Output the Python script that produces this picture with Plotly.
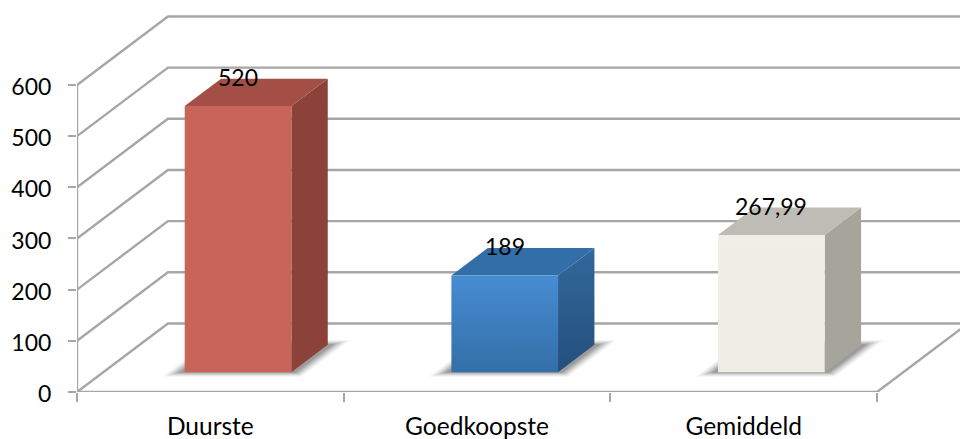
import plotly.graph_objects as go

categories = ["Duurste", "Goedkoopste", "Gemiddeld"]
values = [520, 189, 267.99]
value_labels = ["520", "189", "267,99"]
y_ticks = [0, 100, 200, 300, 400, 500, 600]

front_colors = [["#C9645A", "#C9645A"], ["#478CD3", "#336FA8"], ["#EFEEE7", "#EDECE5"]]
side_colors = [["#8A4239", "#8A4239"], ["#33689B", "#234F7C"], ["#A5A59C", "#A5A59C"]]
top_colors = ["#A34F46", "#326FA8", "#BFBCB6"]

LINE = "#A6A6A6"
FONT = "Lato"
FSIZE = 23
CAT_FSIZE = 24.5
DX = 0.341   # category units of full depth
DY = 133.9   # value units of full depth
D0, D1 = 0.29, 0.69
WIDTH = 0.40
BAR_SHIFT = 0.005


def px(u, d):
    return u + DX * d


def py(v, d):
    return v + DY * d


fig = go.Figure()


def line(xs, ys, width=2.4):
    fig.add_trace(go.Scatter(x=xs, y=ys, mode="lines", line=dict(color=LINE, width=width),
                             hoverinfo="skip", showlegend=False))


def poly(pts, color=None, grad=None):
    xs = [px(u, d) for u, v, d in pts] + [px(*pts[0][::2])]
    ys = [py(v, d) for u, v, d in pts] + [py(pts[0][1], pts[0][2])]
    kw = dict(fillcolor=color) if grad is None else dict(
        fillgradient=dict(type="vertical", colorscale=[[0, grad[1]], [1, grad[0]]]))
    fig.add_trace(go.Scatter(x=xs, y=ys, mode="lines", fill="toself", line=dict(width=0),
                             hoverinfo="skip", showlegend=False, **kw))


n = len(categories)
# walls and floor
for t in y_ticks:
    line([px(0, 0), px(0, 1), px(n, 1)], [py(t, 0), py(t, 1), py(t, 1)])
line([px(0, 0), px(n, 0), px(n, 1)], [py(0, 0), py(0, 0), py(0, 1)])
line([px(0, 0), px(0, 0)], [py(0, 0), py(600, 0)])

for i, val in enumerate(values):
    left = i + (1 - WIDTH) / 2 + BAR_SHIFT
    right = left + WIDTH
    # soft floor shadow
    for g, dg, alpha in [(0.06, 0.065, 0.07), (0.05, 0.05, 0.10), (0.04, 0.035, 0.14),
                         (0.03, 0.02, 0.18), (0.02, 0.01, 0.20)]:
        poly([(left - g, 0, D0 - dg), (right + g, 0, D0 - dg),
              (right + g, 0, D1 + dg), (left - g, 0, D1 + dg)],
             color=f"rgba(70,70,70,{alpha})")
    # side, top, front
    poly([(right, 0, D0), (right, 0, D1), (right, val, D1), (right, val, D0)], grad=side_colors[i])
    poly([(left, val, D0), (right, val, D0), (right, val, D1), (left, val, D1)], color=top_colors[i])
    poly([(left, 0, D0), (right, 0, D0), (right, val, D0), (left, val, D0)], grad=front_colors[i])

annotations = [
    dict(x=px(i + 0.5 + BAR_SHIFT, D0), y=py(v, D0), text=lab, showarrow=False, yshift=29,
         font=dict(family=FONT, size=FSIZE, color="black"), xref="x", yref="y")
    for i, (v, lab) in enumerate(zip(values, value_labels))
]

fig.update_layout(
    width=960, height=439, autosize=False,
    margin=dict(l=77, r=0, t=0, b=47),
    paper_bgcolor="white", plot_bgcolor="white",
    showlegend=False, annotations=annotations,
    xaxis=dict(range=[0, 883 / 266.67], showgrid=False, zeroline=False, showline=False,
               automargin=False,
               tickvals=[i + 0.5 for i in range(n)], ticktext=categories, ticks="",
               ticklabelstandoff=17, tickfont=dict(family=FONT, size=CAT_FSIZE, color="black"),
               minor=dict(tickvals=list(range(n + 1)), ticks="outside", ticklen=9,
                          tickwidth=2, tickcolor=LINE, showgrid=False)),
    yaxis=dict(range=[0, 392 / 0.5117], showgrid=False, zeroline=False, showline=False,
               automargin=False,
               tickvals=y_ticks, ticks="outside", ticklen=8, tickwidth=2, tickcolor=LINE,
               ticklabelstandoff=12, ticklabelshift=2,
               tickfont=dict(family=FONT, size=FSIZE, color="black")),
)

fig.write_html("out.html", config={"displayModeBar": False},
               post_script="document.body.style.margin='0';")
